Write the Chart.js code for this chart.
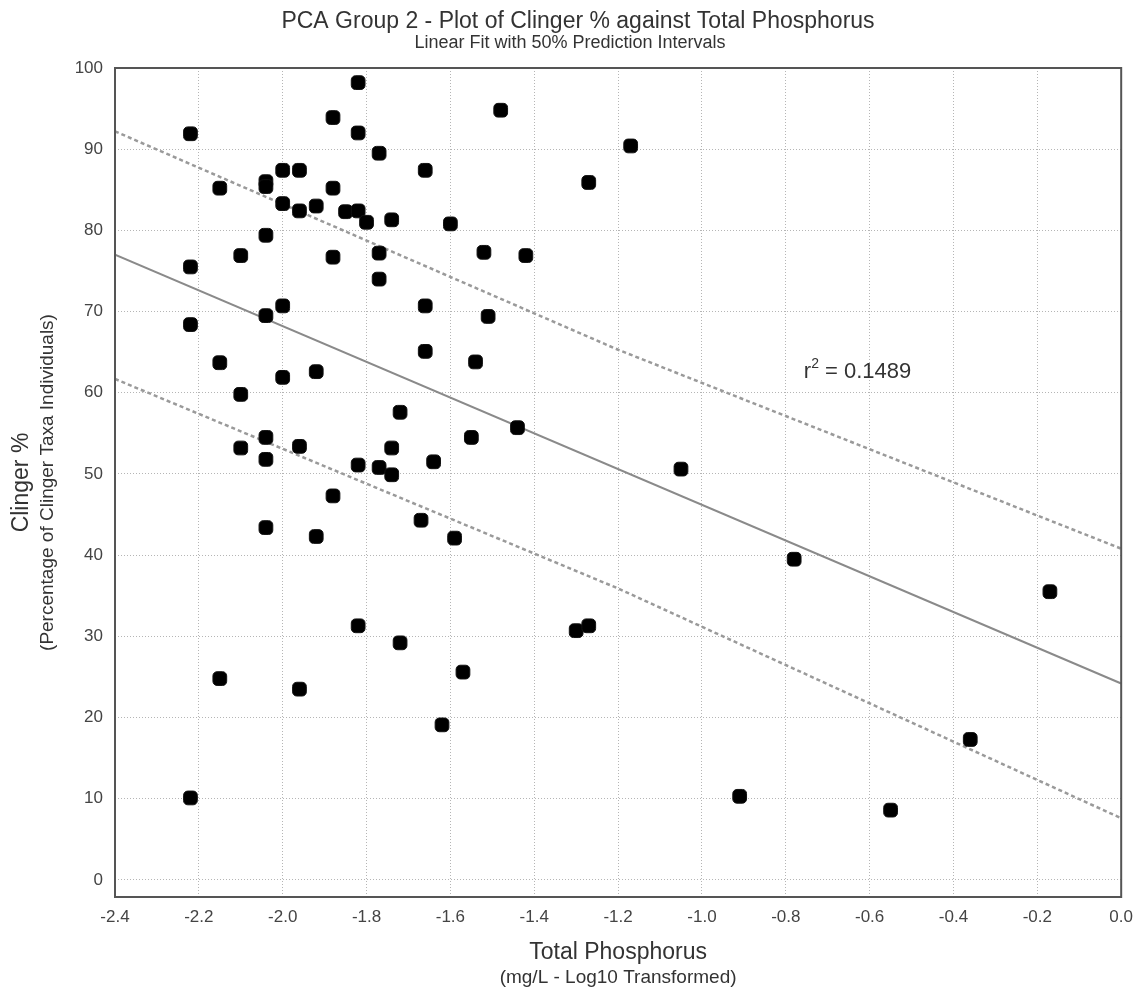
<!DOCTYPE html>
<html>
<head>
<meta charset="utf-8">
<title>PCA Group 2 - Clinger % against Total Phosphorus</title>
<script src="https://cdn.jsdelivr.net/npm/chart.js@4.4.1/dist/chart.umd.min.js"></script>
<style>
    html, body { margin: 0; padding: 0; background: #ffffff; }
    #wrap { width: 1143px; height: 994px; }
</style>
</head>
<body>
<div id="wrap"><canvas id="scatterChart" width="1143" height="994"></canvas></div>
<script>
// Data
let phosphorus = [
    -2.22, -1.82, -1.88, -1.82, -1.77, -1.66, -2.00, -1.96, -2.15, -2.04,
    -2.04, -1.88, -2.00, -1.96, -1.92, -1.85, -1.82, -1.80, -1.74, -1.60,
    -2.04, -2.10, -1.88, -1.77, -2.22, -1.77, -2.00, -1.66, -2.22, -2.04,
    -1.66, -1.48, -1.17, -1.27, -1.52, -1.42, -1.51, -1.54, -2.15, -2.00,
    -1.92, -2.10, -1.72, -2.04, -2.10, -1.96, -1.74, -2.04, -1.82, -1.77,
    -1.74, -1.64, -1.88, -2.04, -1.92, -1.59, -1.82, -1.72, -1.44, -1.55,
    -1.05, -1.67, -0.78, -1.30, -1.27, -0.17, -0.36, -0.55, -1.57, -1.62,
    -0.91, -2.15, -1.96, -2.22
];
let clinger = [
    91.9, 98.2, 93.9, 92.0, 89.5, 87.4, 87.4, 87.4, 85.2, 86.0,
    85.4, 85.2, 83.3, 82.4, 83.0, 82.3, 82.4, 81.0, 81.3, 80.8,
    79.4, 76.9, 76.7, 77.2, 75.5, 74.0, 70.7, 70.7, 68.4, 69.5,
    65.1, 94.8, 90.4, 85.9, 77.3, 76.9, 69.4, 63.8, 63.7, 61.9,
    62.6, 59.8, 57.6, 54.5, 53.2, 53.4, 53.2, 51.8, 51.1, 50.8,
    49.9, 51.5, 47.3, 43.4, 42.3, 42.1, 31.3, 29.2, 55.7, 54.5,
    50.6, 44.3, 39.5, 30.7, 31.3, 35.5, 17.3, 8.6, 25.6, 19.1,
    10.3, 24.8, 23.5, 10.1
];

// Linear fit and 50% prediction intervals
let fitX = [-2.4, 0.0];
let fitY = [77.0, 24.2];
let piX = [-2.4, -1.2, 0.0];
let piUpper = [92.2, 65.3, 40.8];
let piLower = [61.7, 35.9, 7.6];

let xTicks = [-2.4, -2.2, -2.0, -1.8, -1.6, -1.4, -1.2, -1.0, -0.8, -0.6, -0.4, -0.2, 0.0];
let yTicks = [0, 10, 20, 30, 40, 50, 60, 70, 80, 90, 100];

let chartTitle = 'PCA Group 2 - Plot of Clinger % against Total Phosphorus';
let chartSubtitle = 'Linear Fit with 50% Prediction Intervals';
let xTitle = 'Total Phosphorus';
let xSubtitle = '(mg/L - Log10 Transformed)';
let yTitle = 'Clinger %';
let ySubtitle = '(Percentage of Clinger Taxa Individuals)';
let rSquared = '0.1489';

const FONT = '"Liberation Sans", Arial, sans-serif';

function toPoints(xs, ys) {
    return xs.map((x, i) => ({ x: x, y: ys[i] }));
}

// Titles, frame and r2 label
const extras = {
    id: 'extras',
    afterDraw(chart) {
        let c = chart.ctx;
        let area = chart.chartArea;
        let xs = chart.scales.x;
        let ys = chart.scales.y;
        c.save();
        c.strokeStyle = '#555555';
        c.lineWidth = 2;
        c.strokeRect(area.left, area.top, area.right - area.left, area.bottom - area.top);

        c.fillStyle = '#333333';
        c.textAlign = 'center';
        c.textBaseline = 'middle';
        c.font = '23px ' + FONT;
        c.fillText(chartTitle, 578, 22);
        c.font = '18px ' + FONT;
        c.fillText(chartSubtitle, 570, 43);

        let midX = (area.left + area.right) / 2;
        c.font = '23px ' + FONT;
        c.fillText(xTitle, midX, 953);
        c.font = '19px ' + FONT;
        c.fillText(xSubtitle, midX, 978);

        // r2 label
        let rx = xs.getPixelForValue(-0.757);
        let ry = ys.getPixelForValue(62.6);
        c.textAlign = 'left';
        c.font = '22px ' + FONT;
        c.fillText('r', rx, ry);
        let w = c.measureText('r').width;
        c.font = '14px ' + FONT;
        c.fillText('2', rx + w, ry - 8);
        let w2 = c.measureText('2').width;
        c.font = '22px ' + FONT;
        c.fillText(' = ' + rSquared, rx + w + w2, ry);

        // y axis title, rotated
        let midY = (area.top + area.bottom) / 2;
        c.translate(22, midY);
        c.rotate(-Math.PI / 2);
        c.textAlign = 'center';
        c.font = '23px ' + FONT;
        c.fillText(yTitle, 0, 0);
        c.font = '19px ' + FONT;
        c.fillText(ySubtitle, 0, 26);
        c.restore();
    }
};

let ctx = document.getElementById('scatterChart').getContext('2d');
let scatterChart = new Chart(ctx, {
    type: 'scatter',
    data: {
        datasets: [{
            label: 'Sites',
            data: toPoints(phosphorus, clinger),
            pointStyle: 'rectRounded',
            pointRadius: 8,
            pointBackgroundColor: '#000000',
            pointBorderColor: '#111111',
            pointBorderWidth: 1
        }, {
            label: 'Linear fit',
            data: toPoints(fitX, fitY),
            showLine: true,
            pointRadius: 0,
            borderColor: '#8a8a8a',
            borderWidth: 2
        }, {
            label: 'Upper 50% PI',
            data: toPoints(piX, piUpper),
            showLine: true,
            pointRadius: 0,
            borderColor: '#9a9a9a',
            borderWidth: 2.5,
            borderDash: [4, 3]
        }, {
            label: 'Lower 50% PI',
            data: toPoints(piX, piLower),
            showLine: true,
            pointRadius: 0,
            borderColor: '#9a9a9a',
            borderWidth: 2.5,
            borderDash: [4, 3]
        }]
    },
    options: {
        responsive: false,
        animation: false,
        layout: {
            padding: { top: 68, right: 16, left: 0, bottom: 0 }
        },
        plugins: {
            legend: { display: false },
            tooltip: { enabled: false },
            title: { display: false }
        },
        scales: {
            x: {
                type: 'linear',
                min: -2.4,
                max: 0,
                afterBuildTicks: axis => { axis.ticks = xTicks.map(v => ({ value: v })); },
                afterFit: scale => { scale.height = 97; },
                ticks: {
                    callback: v => v.toFixed(1),
                    color: '#444444',
                    font: { family: FONT, size: 17 },
                    padding: 10,
                    maxRotation: 0,
                    autoSkip: false
                },
                grid: { color: '#b5b5b5', lineWidth: 1, drawTicks: false },
                border: { display: false, dash: [1, 2] }
            },
            y: {
                type: 'linear',
                min: -2.1,
                max: 100,
                afterBuildTicks: axis => { axis.ticks = yTicks.map(v => ({ value: v })); },
                afterFit: scale => { scale.width = 115; },
                ticks: {
                    color: '#444444',
                    font: { family: FONT, size: 17 },
                    padding: 12,
                    autoSkip: false
                },
                grid: { color: '#b5b5b5', lineWidth: 1, drawTicks: false },
                border: { display: false, dash: [1, 2] }
            }
        }
    },
    plugins: [extras]
});
</script>
</body>
</html>
